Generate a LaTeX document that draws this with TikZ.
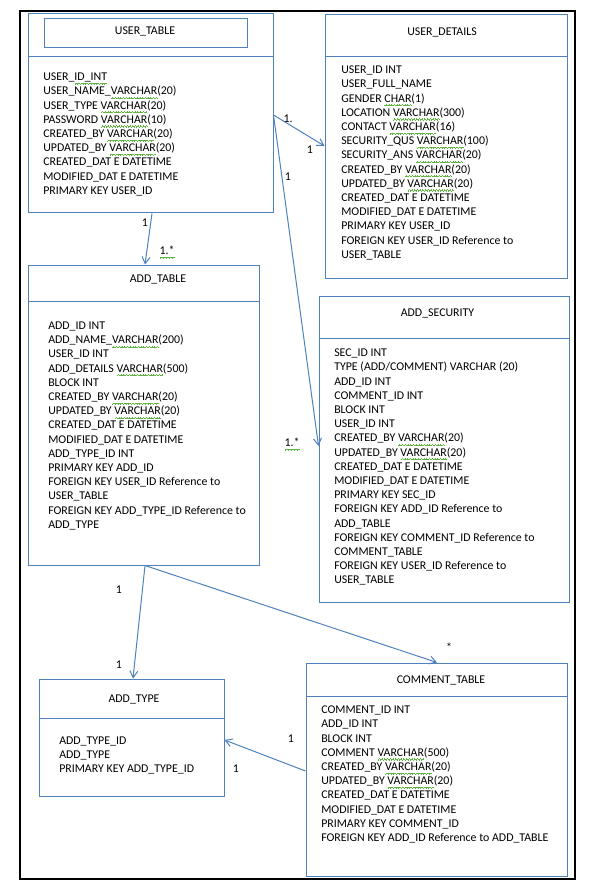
\documentclass[tikz,border=0pt]{standalone}
\usepackage{fontspec}
\setmainfont{Carlito}
\usetikzlibrary{arrows.meta,fit}
\definecolor{oblue}{HTML}{4F81BD}
\definecolor{sqcol}{HTML}{5FB53F}
\newsavebox\sqbox
\newcommand\squnit{\hbox{\rule[-2.9pt]{0.5pt}{0.45pt}\rule[-2.5pt]{0.5pt}{0.45pt}\rule[-2.1pt]{0.5pt}{0.45pt}\rule[-2.5pt]{0.5pt}{0.45pt}}}
\newcommand\sq[1]{\sbox\sqbox{#1}\rlap{\color{sqcol}\hbox to \wd\sqbox{\xleaders\squnit\hfill}}\usebox\sqbox}
\tikzset{
  tbl/.style={draw=oblue, line width=0.75pt, inner sep=0pt, fit={#1}},
  sepline/.style={draw=oblue, line width=0.75pt},
  ttl/.style={anchor=base, inner sep=0pt, font=\fontsize{8.9}{10.65}\selectfont},
  fld/.style={anchor=north west, inner sep=0pt, align=left, font=\fontsize{8.9}{10.65}\selectfont, execute at begin node=\strut},
  lbl/.style={anchor=base, inner sep=0pt, font=\fontsize{8.9}{10.65}\selectfont},
  conn/.style={draw=oblue, line width=0.75pt, -{Straight Barb[length=5pt,width=6pt]}},
}
\begin{document}
\begin{tikzpicture}[x=0.75pt, y=-0.75pt]
\useasboundingbox (0,0) rectangle (597,891);
\draw[black, line width=1pt] (20,11) rectangle (575,879);

% USER_TABLE
\node[tbl={(28,14)(273,213)}] (ut) {};
\draw[sepline] (ut.west |- 0,57) -- (ut.east |- 0,57);
\node[draw=oblue, line width=0.75pt, inner sep=0pt, fit={(44,19)(247,48)}] (utin) {};
\node[ttl] (utt) at (145,34.5) {USER\_TABLE};
\node[fld] (utb) at (43,72.7) {USER\_\sq{ID\_INT}\\
USER\_NAME\_\sq{VARCHAR}(20)\\
USER\_TYPE \sq{VARCHAR}(20)\\
PASSWORD \sq{VARCHAR}(10)\\
CREATED\_BY \sq{VARCHAR}(20)\\
UPDATED\_BY \sq{VARCHAR}(20)\\
CREATED\_DAT E DATETIME\\
MODIFIED\_DAT E DATETIME\\
PRIMARY KEY USER\_ID};

% USER_DETAILS
\node[tbl={(325,15)(567,278)}] (ud) {};
\draw[sepline] (ud.west |- 0,57) -- (ud.east |- 0,57);
\node[ttl] (udt) at (442,35.5) {USER\_DETAILS};
\node[fld] (udb) at (341,65.7) {USER\_ID INT\\
USER\_FULL\_NAME\\
GENDER \sq{CHAR}(1)\\
LOCATION \sq{VARCHAR}(300)\\
CONTACT \sq{VARCHAR}(16)\\
SECURITY\_QUS \sq{VARCHAR}(100)\\
SECURITY\_ANS \sq{VARCHAR}(20)\\
CREATED\_BY \sq{VARCHAR}(20)\\
UPDATED\_BY \sq{VARCHAR}(20)\\
CREATED\_DAT E DATETIME\\
MODIFIED\_DAT E DATETIME\\
PRIMARY KEY USER\_ID\\
FOREIGN KEY USER\_ID Reference to\\
USER\_TABLE};

% ADD_TABLE
\node[tbl={(28,265)(259,565)}] (at) {};
\draw[sepline] (at.west |- 0,301) -- (at.east |- 0,301);
\node[ttl] (att) at (158,282.5) {ADD\_TABLE};
\node[fld] (atb) at (48,321.7) {ADD\_ID INT\\
ADD\_NAME\_\sq{VARCHAR}(200)\\
USER\_ID INT\\
ADD\_DETAILS \sq{VARCHAR}(500)\\
BLOCK INT\\
CREATED\_BY \sq{VARCHAR}(20)\\
UPDATED\_BY \sq{VARCHAR}(20)\\
CREATED\_DAT E DATETIME\\
MODIFIED\_DAT E DATETIME\\
ADD\_TYPE\_ID INT\\
PRIMARY KEY ADD\_ID\\
FOREIGN KEY USER\_ID Reference to\\
USER\_TABLE\\
FOREIGN KEY ADD\_TYPE\_ID Reference to\\
ADD\_TYPE};

% ADD_SECURITY
\node[tbl={(319,296)(569,602)}] (as) {};
\draw[sepline] (as.west |- 0,338) -- (as.east |- 0,338);
\node[ttl] (ast) at (437.5,316.5) {ADD\_SECURITY};
\node[fld] (asb) at (334,348.7) {SEC\_ID INT\\
TYPE (ADD/COMMENT) VARCHAR (20)\\
ADD\_ID INT\\
COMMENT\_ID INT\\
BLOCK INT\\
USER\_ID INT\\
CREATED\_BY \sq{VARCHAR}(20)\\
UPDATED\_BY \sq{VARCHAR}(20)\\
CREATED\_DAT E DATETIME\\
MODIFIED\_DAT E DATETIME\\
PRIMARY KEY SEC\_ID\\
FOREIGN KEY ADD\_ID Reference to\\
ADD\_TABLE\\
FOREIGN KEY COMMENT\_ID Reference to\\
COMMENT\_TABLE\\
FOREIGN KEY USER\_ID Reference to\\
USER\_TABLE};

% ADD_TYPE
\node[tbl={(39,679)(224,796)}] (aty) {};
\draw[sepline] (aty.west |- 0,718) -- (aty.east |- 0,718);
\node[ttl] (atyt) at (134,702.5) {ADD\_TYPE};
\node[fld] (atyb) at (59,736.7) {ADD\_TYPE\_ID\\
ADD\_TYPE\\
PRIMARY KEY ADD\_TYPE\_ID};

% COMMENT_TABLE
\node[tbl={(306,663)(567,876)}] (ct) {};
\draw[sepline] (ct.west |- 0,696) -- (ct.east |- 0,696);
\node[ttl] (ctt) at (441,683.5) {COMMENT\_TABLE};
\node[fld] (ctb) at (321,705.7) {COMMENT\_ID INT\\
ADD\_ID INT\\
BLOCK INT\\
COMMENT \sq{VARCHAR}(500)\\
CREATED\_BY \sq{VARCHAR}(20)\\
UPDATED\_BY \sq{VARCHAR}(20)\\
CREATED\_DAT E DATETIME\\
MODIFIED\_DAT E DATETIME\\
PRIMARY KEY COMMENT\_ID\\
FOREIGN KEY ADD\_ID Reference to ADD\_TABLE};

% connectors
\draw[conn] (ut.east |- 0,115) -- (ud.west |- 0,146);
\draw[conn] (ut.east |- 0,115) -- (as.west |- 0,446);
\draw[conn] (ut.south -| 152,0) -- (at.north -| 145,0);
\draw[conn] (at.south -| 145,0) -- (aty.north -| 133,0);
\draw[conn] (at.south -| 145,0) -- (ct.north -| 437,0);
\draw[conn] (ct.west |- 0,771) -- (aty.east |- 0,740);

% labels
\node[lbl] (l1) at (288,122.5) {1.};
\node[lbl] (l2) at (310,153.5) {1};
\node[lbl] (l3) at (288,180.5) {1};
\node[lbl] (l4) at (292,446.5) {\sq{1.*}};
\node[lbl] (l5) at (145,226.5) {1};
\node[lbl] (l6) at (167,254.5) {\sq{1.*}};
\node[lbl] (l7) at (119,593.5) {1};
\node[lbl] (l8) at (119,668.5) {1};
\node[lbl] (l9) at (449,651.5) {*};
\node[lbl] (l10) at (291,742.5) {1};
\node[lbl] (l11) at (236,772.5) {1};
\end{tikzpicture}
\end{document}
